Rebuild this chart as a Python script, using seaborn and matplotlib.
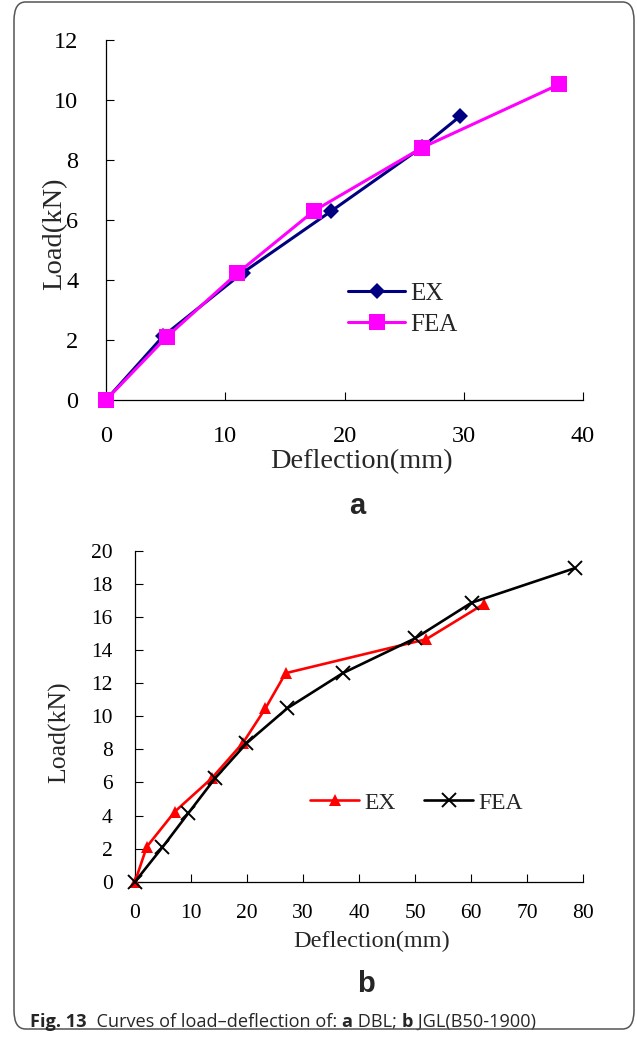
import matplotlib
matplotlib.use("Agg")
import matplotlib.pyplot as plt
import seaborn as sns
import pandas as pd
from matplotlib.patches import FancyBboxPatch

# ---------------- data ----------------
a_ex_x = [0, 4.8, 11.45, 18.9, 26.5, 29.7]
a_ex_y = [0, 2.13, 4.24, 6.3, 8.43, 9.46]
a_fea_x = [0, 5.08, 11.0, 17.46, 26.5, 38.0]
a_fea_y = [0, 2.1, 4.22, 6.31, 8.41, 10.52]

b_ex_x = [0, 2.1, 7.1, 13.7, 19.3, 23.3, 26.9, 52.0, 62.3]
b_ex_y = [0, 2.11, 4.23, 6.25, 8.4, 10.48, 12.6, 14.65, 16.78]
b_fea_x = [0, 4.9, 9.5, 14.3, 19.9, 27.2, 37.1, 50.0, 60.1, 78.5]
b_fea_y = [0, 2.08, 4.13, 6.25, 8.36, 10.48, 12.6, 14.7, 16.86, 18.94]

a_xticks = [0, 10, 20, 30, 40]
a_yticks = [0, 2, 4, 6, 8, 10, 12]
b_xticks = [0, 10, 20, 30, 40, 50, 60, 70, 80]
b_yticks = [0, 2, 4, 6, 8, 10, 12, 14, 16, 18, 20]

series_labels = ["EX", "FEA"]
x_label = "Deflection(mm)"
y_label = "Load(kN)"
panel_labels = ["a", "b"]
caption_parts = [("Fig. 13", "bold"), ("  Curves of load\u2013deflection of: ", "normal"),
                 ("a", "bold"), (" DBL; ", "normal"), ("b", "bold"), (" JGL(B50-1900)", "normal")]

# ---------------- style ----------------
sns.set_style("ticks")
plt.rcParams["font.family"] = ["Liberation Serif", "DejaVu Serif"]

W, H = 637, 1037
fig = plt.figure(figsize=(W / 100, H / 100), dpi=100)
fig.patch.set_facecolor("white")


def px_axes(left, top, right, bottom):
    return [left / W, 1 - bottom / H, (right - left) / W, (bottom - top) / H]


ax1 = fig.add_axes(px_axes(106, 40, 583, 400))
ax2 = fig.add_axes(px_axes(135, 550.7, 583, 881.7))

# ---------------- panel a ----------------
df_a_ex = pd.DataFrame({"x": a_ex_x, "y": a_ex_y})
df_a_fea = pd.DataFrame({"x": a_fea_x, "y": a_fea_y})
sns.lineplot(data=df_a_ex, x="x", y="y", ax=ax1, sort=False, estimator=None,
             color="#000080", lw=2.2, marker="D", markersize=8, markeredgewidth=0,
             label=series_labels[0], clip_on=False, zorder=3)
sns.lineplot(data=df_a_fea, x="x", y="y", ax=ax1, sort=False, estimator=None,
             color="#FF00FF", lw=2.2, marker="s", markersize=11.5, markeredgewidth=0,
             label=series_labels[1], clip_on=False, zorder=4)

ax1.set_xlim(0, 40)
ax1.set_ylim(0, 12)
ax1.set_xticks(a_xticks)
ax1.set_yticks(a_yticks)
ax1.tick_params(axis="both", direction="in", length=6, width=0.8, colors="black",
                labelsize=17.5)
ax1.tick_params(axis="x", pad=19)
ax1.tick_params(axis="y", pad=20)
for s in ["top", "right"]:
    ax1.spines[s].set_visible(False)
for s in ["left", "bottom"]:
    ax1.spines[s].set_linewidth(0.9)
    ax1.spines[s].set_color("black")
ax1.set_xlabel(x_label, fontsize=20.4, va="center")
ax1.set_ylabel(y_label, fontsize=20.5, va="center")
ax1.xaxis.set_label_coords(0.535, -0.172)
ax1.yaxis.set_label_coords(-0.107, 0.461)
ax1.legend(loc="center left", bbox_to_anchor=(0.507, 0.252), frameon=False,
           fontsize=18, handlelength=2.3, handletextpad=0.2, labelspacing=0.35,
           borderpad=0, borderaxespad=0)

# ---------------- panel b ----------------
df_b_ex = pd.DataFrame({"x": b_ex_x, "y": b_ex_y})
df_b_fea = pd.DataFrame({"x": b_fea_x, "y": b_fea_y})
sns.lineplot(data=df_b_ex, x="x", y="y", ax=ax2, sort=False, estimator=None,
             color="#FF0000", lw=1.9, marker="^", markersize=9, markeredgewidth=0,
             label=series_labels[0], clip_on=False, zorder=3)
sns.lineplot(data=df_b_fea, x="x", y="y", ax=ax2, sort=False, estimator=None,
             color="black", lw=1.9, marker="x", markersize=9.5, markeredgewidth=1.4,
             markeredgecolor="black",
             label=series_labels[1], clip_on=False, zorder=4)

ax2.set_xlim(0, 80)
ax2.set_ylim(0, 20)
ax2.set_xticks(b_xticks)
ax2.set_yticks(b_yticks)
ax2.tick_params(axis="both", direction="in", length=5.5, width=0.8, colors="black",
                labelsize=15.5)
ax2.tick_params(axis="x", pad=16)
ax2.tick_params(axis="y", pad=16)
for s in ["top", "right"]:
    ax2.spines[s].set_visible(False)
for s in ["left", "bottom"]:
    ax2.spines[s].set_linewidth(0.9)
    ax2.spines[s].set_color("black")
ax2.set_xlabel(x_label, fontsize=17.5, va="center")
ax2.set_ylabel(y_label, fontsize=18.5, va="center")
ax2.xaxis.set_label_coords(0.529, -0.182)
ax2.yaxis.set_label_coords(-0.167, 0.452)
ax2.legend(loc="center left", bbox_to_anchor=(0.39, 0.238), frameon=False,
           fontsize=17, ncol=2, handlelength=2.1, handletextpad=0.2,
           columnspacing=1.2, borderpad=0, borderaxespad=0)

# ---------------- panel letters ----------------
fig.text(357 / W, 1 - 514 / H, panel_labels[0], ha="center", va="baseline",
         fontsize=21, fontweight="bold", family=["Liberation Sans", "DejaVu Sans"])
fig.text(366 / W, 1 - 992 / H, panel_labels[1], ha="center", va="baseline",
         fontsize=21, fontweight="bold", family=["Liberation Sans", "DejaVu Sans"])

# ---------------- caption (chained pieces, mixed weight) ----------------
base_y = H - 1027
cap_size = 13.1
prev = fig.text(30 / W, base_y / H, caption_parts[0][0], ha="left", va="baseline",
                fontsize=cap_size, fontweight=caption_parts[0][1],
                family=["Open Sans", "DejaVu Sans"])
for txt, wt in caption_parts[1:]:
    prev = ax2.annotate(txt, xy=(1, base_y), xycoords=(prev, "figure pixels"),
                        ha="left", va="baseline", fontsize=cap_size, fontweight=wt,
                        family=["Open Sans", "DejaVu Sans"], annotation_clip=False)

# ---------------- border ----------------
border = FancyBboxPatch((14 / W, 8 / H), (634 - 14) / W, (1035 - 8) / H,
                        boxstyle="round,pad=0,rounding_size=0.018",
                        transform=fig.transFigure, fill=False,
                        edgecolor="#555555", linewidth=1.1, zorder=0)
fig.patches.append(border)

fig.savefig("out.png", dpi=100)
